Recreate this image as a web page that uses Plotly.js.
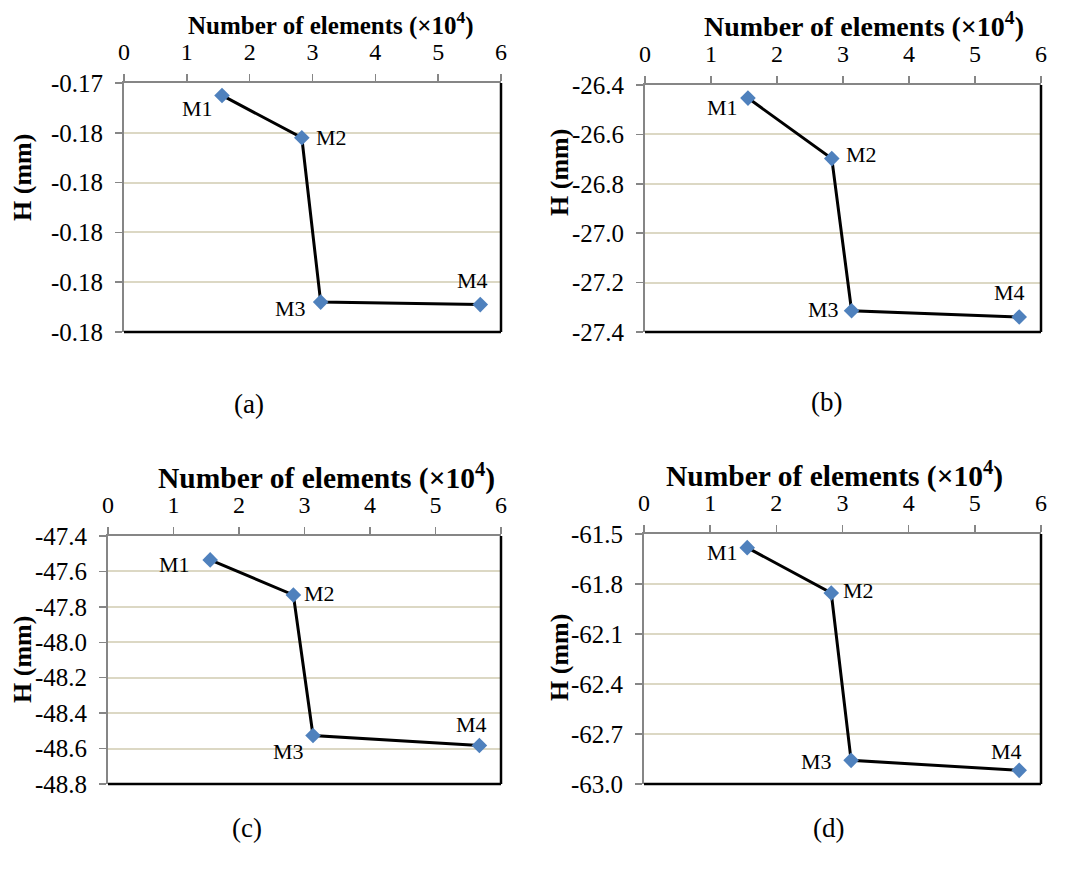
<!DOCTYPE html>
<html>
<head>
<meta charset="utf-8">
<script src="https://cdn.plot.ly/plotly-3.0.1.min.js"></script>
<style>html,body{margin:0;padding:0;background:#fff;}#chart{width:1067px;height:871px;}</style>
</head>
<body>
<div id="chart"></div>
<script>
// ---- data ----
const elementsX = [1.56, 2.83, 3.13, 5.67];          // number of elements (x10^4)
const meshLabels = ['M1', 'M2', 'M3', 'M4'];
const hA = [-0.1745, -0.1762, -0.1828, -0.1829];
const hB = [-26.453, -26.698, -27.314, -27.339];
const hC = [-47.535, -47.733, -48.526, -48.583];
const hD = [-61.582, -61.854, -62.858, -62.918];

const xTickVals = [0, 1, 2, 3, 4, 5, 6];
const yTickValsA = [-0.174, -0.176, -0.178, -0.180, -0.182, -0.184];
const yTickTextA = ['-0.17', '-0.18', '-0.18', '-0.18', '-0.18', '-0.18'];
const yTickValsB = [-26.4, -26.6, -26.8, -27.0, -27.2, -27.4];
const yTickTextB = ['-26.4', '-26.6', '-26.8', '-27.0', '-27.2', '-27.4'];
const yTickValsC = [-47.4, -47.6, -47.8, -48.0, -48.2, -48.4, -48.6, -48.8];
const yTickTextC = ['-47.4', '-47.6', '-47.8', '-48.0', '-48.2', '-48.4', '-48.6', '-48.8'];
const yTickValsD = [-61.5, -61.8, -62.1, -62.4, -62.7, -63.0];
const yTickTextD = ['-61.5', '-61.8', '-62.1', '-62.4', '-62.7', '-63.0'];
const captions = ['(a)', '(b)', '(c)', '(d)'];
const xTitle = 'Number of elements (×10<sup>4</sup>)';
const yTitle = 'H (mm)';

// ---- layout geometry (pixels) ----
const W = 1067, H = 871;
const panels = [
  {ys: hA, tv: yTickValsA, tt: yTickTextA, px: [124, 501], py: [83, 332],
   xt: {x: 331, y: 23, size: 25}, yt: {x: 22, y: 178}, cap: {x: 249, y: 404},
   lab: [[-25, 13], [30, 0], [-30, 6], [-8, -24]]},
  {ys: hB, tv: yTickValsB, tt: yTickTextB, px: [645, 1041], py: [85, 332],
   xt: {x: 864, y: 25, size: 28}, yt: {x: 559, y: 173}, cap: {x: 826, y: 402},
   lab: [[-25, 9], [30, -4], [-28, -1], [-10, -24]]},
  {ys: hC, tv: yTickValsC, tt: yTickTextC, px: [108, 501], py: [536, 784],
   xt: {x: 326, y: 476, size: 29.5}, yt: {x: 22, y: 660}, cap: {x: 247, y: 828},
   lab: [[-36, 5], [26, -1], [-25, 16], [-8, -21]]},
  {ys: hD, tv: yTickValsD, tt: yTickTextD, px: [644, 1041], py: [534, 784],
   xt: {x: 834, y: 475, size: 29.5}, yt: {x: 559, y: 658}, cap: {x: 828, y: 828},
   lab: [[-25, 5], [27, -3], [-35, 1], [-13, -19]]}
];

const FONT = 'Liberation Serif, serif';
const traces = [];
const layout = {
  width: W, height: H,
  margin: {l: 0, r: 0, t: 0, b: 0},
  paper_bgcolor: '#ffffff', plot_bgcolor: '#ffffff',
  showlegend: false,
  font: {family: FONT, color: '#000'},
  annotations: [], shapes: []
};

panels.forEach((p, i) => {
  const n = i === 0 ? '' : String(i + 1);
  const xa = 'x' + n, ya = 'y' + n;
  traces.push({
    type: 'scatter', mode: 'lines+markers',
    x: elementsX, y: p.ys, xaxis: xa, yaxis: ya,
    line: {color: '#000', width: 3},
    marker: {symbol: 'diamond', size: 12, color: '#4f81bd'},
    cliponaxis: false, hoverinfo: 'skip'
  });
  const yr = [Math.min(...p.tv), Math.max(...p.tv)];
  layout['xaxis' + n] = {
    domain: [p.px[0] / W, p.px[1] / W], anchor: ya, side: 'top',
    range: [0, 6], tickmode: 'array', tickvals: xTickVals,
    ticks: 'outside', ticklen: 7, tickwidth: 1.5, tickcolor: '#868686',
    ticklabelstandoff: 4,
    showline: true, linecolor: '#868686', linewidth: 2,
    showgrid: false, zeroline: false, fixedrange: true,
    tickfont: {family: FONT, size: 24, color: '#000'}
  };
  layout['yaxis' + n] = {
    domain: [1 - p.py[1] / H, 1 - p.py[0] / H], anchor: xa,
    range: yr, tickmode: 'array', tickvals: p.tv, ticktext: p.tt,
    ticks: 'outside', ticklen: 7, tickwidth: 1.5, tickcolor: '#868686',
    ticklabelstandoff: 7,
    showline: true, linecolor: '#868686', linewidth: 2,
    showgrid: true, gridcolor: '#dcd8c4', gridwidth: 2,
    zeroline: false, fixedrange: true,
    tickfont: {family: FONT, size: 25, color: '#000'}
  };
  // black right/bottom frame
  layout.shapes.push({type: 'line', xref: xa + ' domain', yref: ya + ' domain',
    x0: 1, x1: 1, y0: 0, y1: 1, line: {color: '#000', width: 2.5}, layer: 'above'});
  layout.shapes.push({type: 'line', xref: xa + ' domain', yref: ya + ' domain',
    x0: 0, x1: 1, y0: 0, y1: 0, line: {color: '#000', width: 2.5}, layer: 'above'});
  // point labels M1..M4
  meshLabels.forEach((lbl, j) => {
    layout.annotations.push({
      text: lbl, xref: xa, yref: ya, x: elementsX[j], y: p.ys[j],
      xanchor: 'center', yanchor: 'middle', showarrow: false,
      xshift: p.lab[j][0], yshift: -p.lab[j][1],
      font: {family: FONT, size: 22, color: '#000'}
    });
  });
  layout.annotations.push({
    text: '<b>' + xTitle + '</b>', xref: 'paper', yref: 'paper',
    x: p.xt.x / W, y: 1 - p.xt.y / H, xanchor: 'center', yanchor: 'middle',
    showarrow: false, font: {family: FONT, size: p.xt.size, color: '#000'}
  });
  layout.annotations.push({
    text: '<b>' + yTitle + '</b>', xref: 'paper', yref: 'paper', textangle: -90,
    x: p.yt.x / W, y: 1 - p.yt.y / H, xanchor: 'center', yanchor: 'middle',
    showarrow: false, font: {family: FONT, size: 26, color: '#000'}
  });
  layout.annotations.push({
    text: captions[i], xref: 'paper', yref: 'paper',
    x: p.cap.x / W, y: 1 - p.cap.y / H, xanchor: 'center', yanchor: 'middle',
    showarrow: false, font: {family: FONT, size: 27, color: '#000'}
  });
});

Plotly.newPlot('chart', traces, layout, {displayModeBar: false, staticPlot: true});
</script>
</body>
</html>
